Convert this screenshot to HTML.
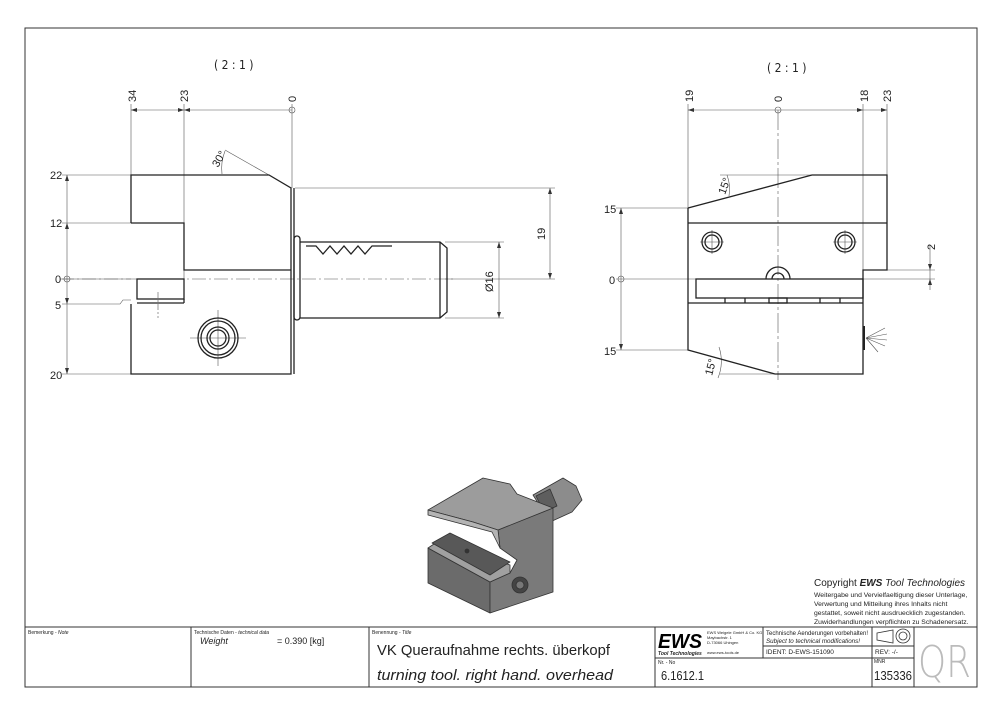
<!DOCTYPE html>
<html><head><meta charset="utf-8"><style>
html,body{margin:0;padding:0;background:#fff}
svg{display:block}
text{font-family:"Liberation Sans",sans-serif;fill:#222}
.n{font-family:"DejaVu Sans Condensed","Liberation Sans",sans-serif}
</style></head><body>
<svg width="1000" height="715" viewBox="0 0 1000 715" xmlns="http://www.w3.org/2000/svg">
<g fill="none" stroke="#333" stroke-width="1">
<rect x="25" y="28" width="952" height="659"/>
<line x1="25" y1="627" x2="977" y2="627"/>
<line x1="191" y1="627" x2="191" y2="687"/>
<line x1="369" y1="627" x2="369" y2="687"/>
<line x1="655" y1="627" x2="655" y2="687"/>
<line x1="763" y1="627" x2="763" y2="658"/>
<line x1="872" y1="627" x2="872" y2="687"/>
<line x1="914" y1="627" x2="914" y2="687"/>
<line x1="763" y1="646" x2="914" y2="646"/>
<line x1="655" y1="658" x2="914" y2="658"/>
</g>
<g fill="none" stroke="#555" stroke-width="0.6">
<line x1="131" y1="110" x2="292" y2="110"/>
<line x1="131" y1="104" x2="131" y2="175"/>
<line x1="184" y1="104" x2="184" y2="300"/>
<line x1="292" y1="104" x2="292" y2="188"/>
<circle cx="292" cy="110" r="3"/>
<line x1="67" y1="175" x2="67" y2="374"/>
<line x1="62" y1="175" x2="131" y2="175"/>
<line x1="62" y1="223" x2="131" y2="223"/>
<line x1="62" y1="279" x2="131" y2="279"/>
<polyline points="62,304 120,304 123,300 131,300"/>
<line x1="62" y1="374" x2="131" y2="374"/>
<circle cx="67" cy="279" r="3"/>
<line x1="295" y1="188" x2="555" y2="188"/>
<line x1="550" y1="188" x2="550" y2="279"/>
<line x1="445" y1="279" x2="555" y2="279"/>
<line x1="499" y1="242" x2="499" y2="318"/>
<line x1="445" y1="242" x2="504" y2="242"/>
<line x1="445" y1="318" x2="504" y2="318"/>
<line x1="269" y1="175" x2="225" y2="150"/>
<path d="M222,174 A47,47 0 0 1 225,151"/>
<line x1="60" y1="279" x2="455" y2="279" stroke-dasharray="14,3,2,3"/>
<line x1="158" y1="292" x2="158" y2="318" stroke-dasharray="6,2,2,2"/>
<line x1="190" y1="338" x2="246" y2="338"/>
<line x1="218" y1="310" x2="218" y2="366"/>
</g>
<g fill="#333" stroke="none">
<path d="M131,110 l6,-2 v4z"/><path d="M184,110 l6,-2 v4z"/><path d="M184,110 l-6,-2 v4z"/>
<path d="M67,175 l-2,6 h4z"/><path d="M67,374 l-2,-6 h4z"/><path d="M67,223 l-2,6 h4z"/><path d="M67,304 l-2,-6 h4z"/>
<path d="M550,188 l-2,6 h4z"/><path d="M550,279 l-2,-6 h4z"/>
<path d="M499,242 l-2,6 h4z"/><path d="M499,318 l-2,-6 h4z"/>
</g>
<g fill="none" stroke="#222" stroke-width="1.3">
<polyline points="131,223 131,175 269,175 291,188 291,374 131,374 131,304"/>
<polyline points="131,223 184,223 184,270 291,270"/>
<rect x="137" y="279" width="47" height="20"/>
<line x1="137" y1="303" x2="184" y2="303"/>
<line x1="184" y1="299" x2="184" y2="303"/>
<line x1="294" y1="188" x2="294" y2="374"/>
<rect x="294" y="236" width="6" height="84" rx="3"/>
<polyline points="300,242 440,242 447,248 447,312 440,318 300,318"/>
<line x1="440" y1="242" x2="440" y2="318"/>
<polyline points="306,246 316,246 323,254 330,246 337,254 344,246 351,254 358,246 365,254 372,246 392,246"/>
<circle cx="218" cy="338" r="20"/>
<circle cx="218" cy="338" r="17"/>
<circle cx="218" cy="338" r="11"/>
<circle cx="218" cy="338" r="8"/>
</g>
<g class="n" font-size="11">
<text x="50" y="179">22</text><text x="50" y="227">12</text><text x="55" y="283">0</text>
<text x="55" y="309">5</text><text x="50" y="379">20</text>
<text transform="translate(136,102) rotate(-90)">34</text>
<text transform="translate(188,102) rotate(-90)">23</text>
<text transform="translate(296,102) rotate(-90)">0</text>
<text transform="translate(545,240) rotate(-90)">19</text>
<text transform="translate(493,292) rotate(-90)">Ø16</text>
<text transform="translate(218,168) rotate(-60)">30°</text>
</g>
<text x="214" y="69" font-size="12" class="n">( 2 : 1 )</text>
<text x="767" y="72" font-size="12" class="n">( 2 : 1 )</text>
<g fill="none" stroke="#555" stroke-width="0.6">
<line x1="688" y1="110" x2="887" y2="110"/>
<line x1="688" y1="104" x2="688" y2="208"/>
<line x1="863" y1="104" x2="863" y2="270"/>
<line x1="887" y1="104" x2="887" y2="175"/>
<circle cx="778" cy="110" r="3"/>
<line x1="778" y1="110" x2="778" y2="380" stroke-dasharray="20,3,3,3"/>
<line x1="621" y1="208" x2="621" y2="350"/>
<line x1="616" y1="208" x2="688" y2="208"/>
<line x1="616" y1="350" x2="688" y2="350"/>
<line x1="616" y1="279" x2="696" y2="279"/>
<circle cx="621" cy="279" r="3"/>
<line x1="863" y1="279" x2="935" y2="279"/>
<line x1="887" y1="270" x2="935" y2="270"/>
<line x1="930" y1="245" x2="930" y2="290"/>
<line x1="720" y1="175" x2="812" y2="175"/>
<path d="M727,175 A40,40 0 0 1 729,196"/>
<line x1="720" y1="374" x2="775" y2="374"/>
<path d="M718,378 A45,45 0 0 0 719,347"/>
<line x1="700" y1="242" x2="724" y2="242"/><line x1="712" y1="230" x2="712" y2="254"/>
<line x1="833" y1="242" x2="857" y2="242"/><line x1="845" y1="230" x2="845" y2="254"/>
<path d="M866,338 L885,328 M866,338 L887,334 M866,338 L887,340 M866,338 L885,346 M866,338 L878,352"/>
</g>
<g fill="#333"><path d="M688,110 l6,-2 v4z"/><path d="M863,110 l-6,-2 v4z"/><path d="M887,110 l-6,-2 v4z"/>
<path d="M621,208 l-2,6 h4z"/><path d="M621,350 l-2,-6 h4z"/>
<path d="M930,270 l-2,-6 h4z"/><path d="M930,279 l-2,6 h4z"/></g>
<g fill="none" stroke="#222" stroke-width="1.3">
<polyline points="688,208 812,175 887,175 887,270 863,270 863,374 775,374 688,350 688,208"/>
<line x1="688" y1="223" x2="887" y2="223"/>
<rect x="696" y="279" width="167" height="19"/>
<line x1="688" y1="303" x2="863" y2="303"/>
<line x1="725" y1="298" x2="725" y2="303"/><line x1="745" y1="298" x2="745" y2="303"/>
<line x1="820" y1="298" x2="820" y2="303"/><line x1="840" y1="298" x2="840" y2="303"/>
<rect x="769" y="298" width="18" height="5"/>
<path d="M766,279 A12,12 0 0 1 790,279"/>
<path d="M772,279 A6,6 0 0 1 784,279"/>
<circle cx="712" cy="242" r="10"/><circle cx="712" cy="242" r="7"/>
<circle cx="845" cy="242" r="10"/><circle cx="845" cy="242" r="7"/>
<line x1="864" y1="326" x2="864" y2="350" stroke-width="2"/>
</g>
<g class="n" font-size="11">
<text x="604" y="213">15</text><text x="609" y="284">0</text><text x="604" y="355">15</text>
<text transform="translate(693,102) rotate(-90)">19</text>
<text transform="translate(782,102) rotate(-90)">0</text>
<text transform="translate(868,102) rotate(-90)">18</text>
<text transform="translate(891,102) rotate(-90)">23</text>
<text transform="translate(935,250) rotate(-90)">2</text>
<text transform="translate(725,195) rotate(-70)">15°</text>
<text transform="translate(712,376) rotate(-75)">15°</text>
</g>
<!-- 3D -->
<g stroke="#333" stroke-width="0.8" stroke-linejoin="round">
<polygon points="533,495 563,478 576,486 582,500 572,512 550,522" fill="#8c8c8c"/>
<polygon points="536,496 550,489 557,506 544,512" fill="#5e5e5e"/>
<polygon points="428,548 490,582 490,613 428,583" fill="#6b6b6b"/>
<polygon points="498,530 553,508 553,592 490,613 490,582 510,573 517,560 500,548" fill="#7a7a7a"/>
<polygon points="428,548 440,540 510,565 510,573 490,582" fill="#a0a0a0"/>
<polygon points="432,543 450,533 510,562 490,575" fill="#585858"/>
<polygon points="428,510 483,478 510,484 517,494 553,508 498,530 473,522" fill="#9c9c9c"/>
<polygon points="428,510 473,522 498,530 500,548 492,532 428,515" fill="#b4b4b4"/>
<circle cx="520" cy="585" r="8" fill="#444"/>
<circle cx="520" cy="585" r="4" fill="#777"/>
<circle cx="467" cy="551" r="2" fill="#333"/>
</g>
<text x="814" y="586" font-size="10">Copyright <tspan font-weight="bold" font-style="italic">EWS</tspan> <tspan font-style="italic">Tool Technologies</tspan></text>
<g font-size="6.8"><text x="814" y="597">Weitergabe und Vervielfaeltigung dieser Unterlage,</text>
<text x="814" y="606">Verwertung und Mitteilung ihres Inhalts nicht</text>
<text x="814" y="615">gestattet, soweit nicht ausdruecklich zugestanden.</text>
<text x="814" y="624">Zuwiderhandlungen verpflichten zu Schadenersatz.</text></g>
<g class="n">
<text x="28" y="634" font-size="5">Bemerkung - <tspan font-style="italic">Note</tspan></text>
<text x="194" y="634" font-size="5">Technische Daten - <tspan font-style="italic">technical data</tspan></text>
<text x="200" y="644" font-size="9" font-style="italic">Weight</text>
<text x="277" y="644" font-size="9">=  0.390 [kg]</text>
<text x="372" y="634" font-size="5">Benennung - <tspan font-style="italic">Title</tspan></text>
<text x="377" y="655" font-size="15" textLength="233" lengthAdjust="spacingAndGlyphs">VK Queraufnahme rechts. überkopf</text>
<text x="377" y="680" font-size="15" font-style="italic" textLength="236" lengthAdjust="spacingAndGlyphs">turning tool. right hand. overhead</text>
<text x="658" y="648" font-size="20" font-weight="bold" font-style="italic" style="fill:#000;font-family:'Liberation Sans',sans-serif" textLength="44" lengthAdjust="spacingAndGlyphs">EWS</text>
<text x="658" y="655" font-size="5" font-weight="bold" font-style="italic">Tool Technologies</text>
<g font-size="4"><text x="707" y="634">EWS Weigele GmbH &amp; Co. KG</text><text x="707" y="639">Maybachstr. 1</text><text x="707" y="644">D-73066 Uhingen</text><text x="707" y="654">www.ews-tools.de</text></g>
<text x="766" y="635" font-size="6.5" textLength="102" lengthAdjust="spacingAndGlyphs">Technische Aenderungen vorbehalten!</text>
<text x="766" y="643" font-size="6.5" font-style="italic" textLength="94" lengthAdjust="spacingAndGlyphs">Subject to technical modifications!</text>
<text x="766" y="654" font-size="6.5">IDENT:  D-EWS-151090</text>
<text x="875" y="654" font-size="6.5">REV:  -/-</text>
<text x="658" y="664" font-size="5">Nr. - No</text>
<text x="661" y="680" font-size="13" textLength="43" lengthAdjust="spacingAndGlyphs">6.1612.1</text>
<text x="874" y="663" font-size="5">MNR</text>
<text x="874" y="680" font-size="13" textLength="38" lengthAdjust="spacingAndGlyphs">135336</text>
<text x="918" y="677" font-size="44" style="fill:#bbb;font-family:'DejaVu Sans',sans-serif;font-weight:200" textLength="53" lengthAdjust="spacingAndGlyphs">QR</text>
</g>
<g fill="none" stroke="#333" stroke-width="0.8">
<polygon points="877,633 893,630 893,643 877,640"/>
<circle cx="903" cy="636" r="7"/><circle cx="903" cy="636" r="4"/>
</g>
</svg>
</body></html>
